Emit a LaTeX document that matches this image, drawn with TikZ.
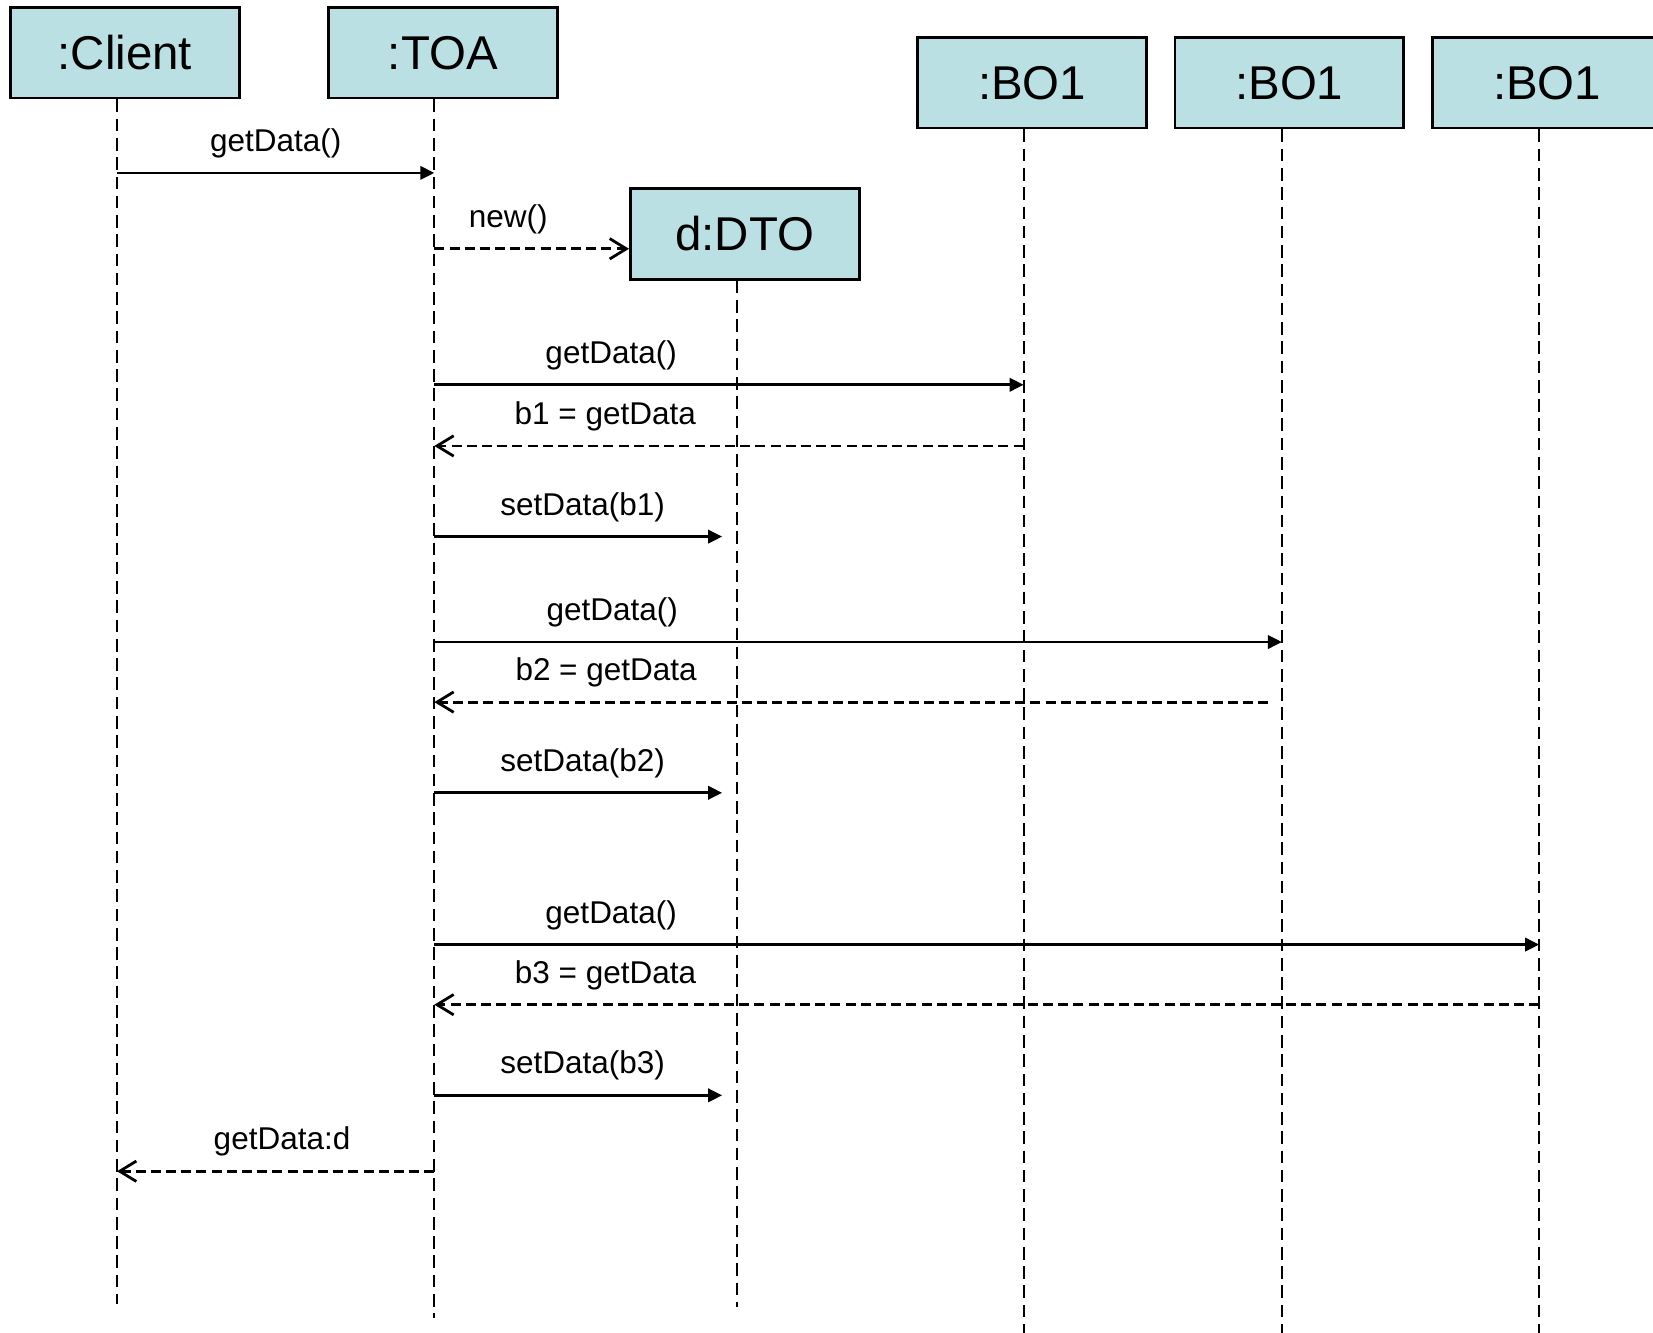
\documentclass[tikz,border=0pt]{standalone}
\usepackage{fontspec}
\setmainfont{Liberation Sans}
\usetikzlibrary{arrows.meta}
\definecolor{objfill}{RGB}{187,224,227}
\tikzstyle{obj} = [rectangle, draw, line width=0.75pt, fill=objfill, minimum width=2.17cm, minimum height=0.86cm, inner sep=0pt, font=\fontsize{12.8}{15}\selectfont]
\tikzstyle{life} = [line width=0.55pt, dash pattern=on 3.4pt off 1.8pt]
\tikzstyle{call} = [line width=0.75pt, -{Triangle[length=3.8pt, width=3.6pt]}]
\tikzstyle{reply} = [line width=0.75pt, dash pattern=on 2.7pt off 1.4pt, -{Straight Barb[length=4.5pt, width=5.5pt]}]
\tikzstyle{lbl} = [yshift=0.28cm, font=\fontsize{8.5}{10}\selectfont]

\begin{document}
\begin{tikzpicture}
        \clip (0,0) rectangle (15.68,-12.64);
        \node [obj] at (1.185,-0.50) (client) {:Client};
        \node [obj] at (4.20,-0.50) (toa) {:TOA};
        \node [obj] at (7.065,-2.22) (dto) {d:DTO};
        \node [obj] at (9.79,-0.785) (bo1) {:BO1};
        \node [obj] at (12.23,-0.785) (bo2) {:BO1};
        \node [obj] at (14.675,-0.785) (bo3) {:BO1};
        % lifelines
        \coordinate (cl) at (1.11,-12.37);
        \coordinate (tl) at (4.12,-12.50);
        \coordinate (dl) at (6.99,-12.40);
        \coordinate (b1l) at (9.71,-12.64);
        \coordinate (b2l) at (12.16,-12.64);
        \coordinate (b3l) at (14.60,-12.64);
        \draw [life] (cl |- client.south) -- (cl);
        \draw [life] (tl |- toa.south) -- (tl);
        \draw [life] (dl |- dto.south) -- (dl);
        \draw [life] (b1l |- bo1.south) -- (b1l);
        \draw [life] (b2l |- bo2.south) -- (b2l);
        \draw [life] (b3l |- bo3.south) -- (b3l);
        % messages
        \draw [call] (cl |- 0,-1.64) -- node[lbl] {getData()} (tl |- 0,-1.64);
        \draw [reply] (tl |- 0,-2.36) -- node[lbl, pos=0.38] {new()} (dto.west |- 0,-2.36);
        \draw [call] (tl |- 0,-3.65) -- node[lbl, pos=0.30] {getData()} (b1l |- 0,-3.65);
        \draw [reply] (b1l |- 0,-4.23) -- node[lbl, pos=0.71] {b1 = getData} (tl |- 0,-4.23);
        \draw [call] (tl |- 0,-5.09) -- node[lbl, pos=0.515] {setData(b1)} ([xshift=-0.14cm]dl |- 0,-5.09);
        \draw [call] (tl |- 0,-6.09) -- node[lbl, pos=0.21] {getData()} (b2l |- 0,-6.09);
        \draw [reply] ([xshift=-0.13cm]b2l |- 0,-6.66) -- node[lbl, pos=0.794] {b2 = getData} (tl |- 0,-6.66);
        \draw [call] (tl |- 0,-7.52) -- node[lbl, pos=0.515] {setData(b2)} ([xshift=-0.14cm]dl |- 0,-7.52);
        \draw [call] (tl |- 0,-8.96) -- node[lbl, pos=0.16] {getData()} (b3l |- 0,-8.96);
        \draw [reply] (b3l |- 0,-9.53) -- node[lbl, pos=0.845] {b3 = getData} (tl |- 0,-9.53);
        \draw [call] (tl |- 0,-10.39) -- node[lbl, pos=0.515] {setData(b3)} ([xshift=-0.14cm]dl |- 0,-10.39);
        \draw [reply] (tl |- 0,-11.11) -- node[lbl, pos=0.48] {getData:d} (cl |- 0,-11.11);
        \end{tikzpicture}
\end{document}
